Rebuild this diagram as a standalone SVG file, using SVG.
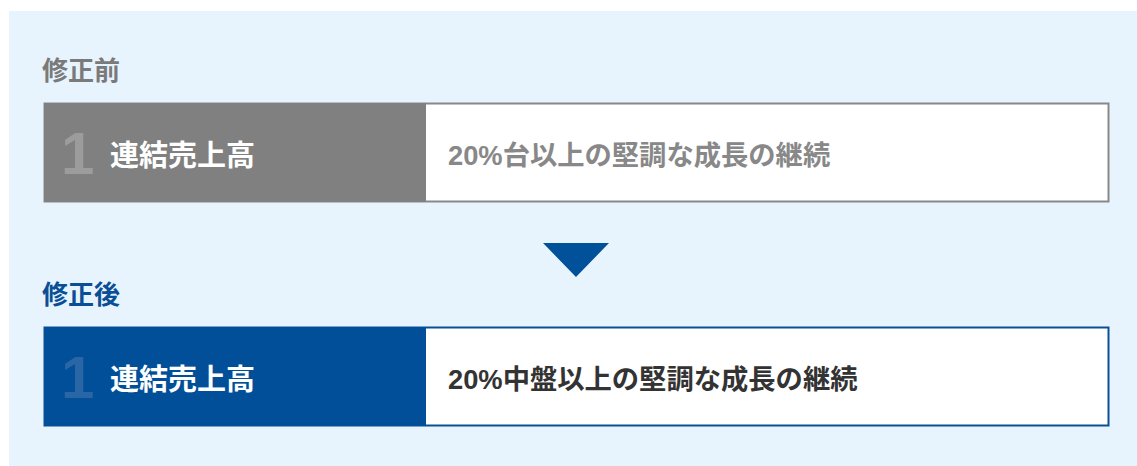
<svg xmlns="http://www.w3.org/2000/svg" width="1137" height="466" viewBox="0 0 1137 466">
<style>
.lbl{font-family:"Liberation Sans","Noto Sans CJK JP",sans-serif;font-weight:bold;font-size:26px}
.num{font-family:"Liberation Sans",sans-serif;font-weight:bold;font-size:60px}
.head{font-family:"Liberation Sans","Noto Sans CJK JP",sans-serif;font-weight:bold;font-size:29px;fill:#ffffff}
.val{font-family:"Liberation Sans","Noto Sans CJK JP",sans-serif;font-weight:bold;font-size:27.3px}
</style>
<rect x="9" y="11" width="1128" height="455" fill="#e8f4fd"/>
<g id="before">
<text class="lbl" x="42" y="80" fill="#7a7a7a">修正前</text>
<rect x="44.5" y="103.5" width="1064" height="98" fill="#ffffff" stroke="#888888" stroke-width="2"/>
<rect x="44" y="103" width="382" height="99" fill="#808080"/>
<text class="num" x="61" y="174" fill="#9c9c9c">1</text>
<text class="head" x="110" y="166">連結売上高</text>
<text class="val" x="448" y="165" fill="#888888">20%台以上の堅調な成長の継続</text>
</g>
<g id="connectors">
<polygon points="543,243 609,243 576,277" fill="#00509a"/>
</g>
<g id="after">
<text class="lbl" x="42" y="304" fill="#0a4f96">修正後</text>
<rect x="44.5" y="327.5" width="1064" height="98" fill="#ffffff" stroke="#0a4f96" stroke-width="2"/>
<rect x="44" y="327" width="382" height="99" fill="#004f98"/>
<text class="num" x="61" y="398" fill="#2a66a6">1</text>
<text class="head" x="110" y="390">連結売上高</text>
<text class="val" x="448" y="389" fill="#333333">20%中盤以上の堅調な成長の継続</text>
</g>
</svg>
